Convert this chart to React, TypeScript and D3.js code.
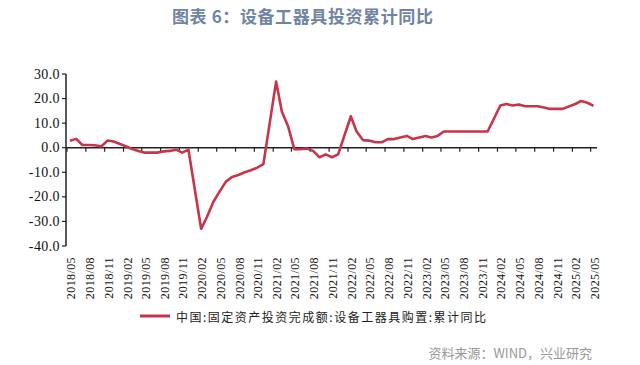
import React from "react";
import * as d3 from "d3";

// monthly cumulative yoy (%), January is merged into February
const months = [
  "2018/05", "2018/06", "2018/07", "2018/08", "2018/09", "2018/10", "2018/11", "2018/12",
  "2019/02", "2019/03", "2019/04", "2019/05", "2019/06", "2019/07", "2019/08", "2019/09", "2019/10", "2019/11", "2019/12",
  "2020/02", "2020/03", "2020/04", "2020/05", "2020/06", "2020/07", "2020/08", "2020/09", "2020/10", "2020/11", "2020/12",
  "2021/02", "2021/03", "2021/04", "2021/05", "2021/06", "2021/07", "2021/08", "2021/09", "2021/10", "2021/11", "2021/12",
  "2022/02", "2022/03", "2022/04", "2022/05", "2022/06", "2022/07", "2022/08", "2022/09", "2022/10", "2022/11", "2022/12",
  "2023/02", "2023/03", "2023/04", "2023/05", "2023/06", "2023/07", "2023/08", "2023/09", "2023/10", "2023/11", "2023/12",
  "2024/02", "2024/03", "2024/04", "2024/05", "2024/06", "2024/07", "2024/08", "2024/09", "2024/10", "2024/11", "2024/12",
  "2025/02", "2025/03", "2025/04", "2025/05",
];

const values = [
  2.8, 3.6, 1.1, 1.1, 1.0, 0.5, 2.9, 2.5,
  0.5, -0.5, -1.3, -2.0, -2.0, -2.0, -1.5, -1.3, -0.8, -2.0, -0.8,
  -33.0, -28.1, -22.0, -17.9, -13.8, -11.9, -11.1, -10.0, -9.2, -8.1, -6.7,
  26.9, 14.7, 8.6, -0.6, -0.6, -0.3, -1.3, -3.9, -2.7, -3.9, -2.7,
  12.8, 6.6, 3.1, 2.9, 2.2, 2.2, 3.5, 3.5, 4.2, 4.8, 3.5,
  4.8, 4.2, 4.8, 6.6, 6.6, 6.6, 6.6, 6.6, 6.6, 6.6, 6.6,
  17.2, 17.8, 17.2, 17.6, 16.9, 16.9, 16.9, 16.4, 15.8, 15.8, 15.8,
  17.8, 19.0, 18.3, 17.0,
];

const yTicks = [30, 20, 10, 0, -10, -20, -30, -40];

const title = "图表 6：设备工器具投资累计同比";
const legendLabel = "中国:固定资产投资完成额:设备工器具购置:累计同比";
const source = "资料来源：WIND，兴业研究";

const parse = d3.timeParse("%Y/%m");
const fmt = d3.timeFormat("%Y/%m");
const midMonth = (d: Date) => d3.timeDay.offset(d, 14);

export default function App() {
  const width = 640;
  const height = 365;
  const red = "#c8354b";

  const start = parse("2018/05")!;
  const end = parse("2025/06")!;
  const x = d3.scaleTime().domain([start, end]).range([67, 597]);
  const y = d3.scaleLinear().domain([-40, 30]).range([246, 74]);

  const points = months.map((m, i) => ({ date: midMonth(parse(m)!), v: values[i] }));
  const line = d3
    .line<{ date: Date; v: number }>()
    .x((d) => x(d.date))
    .y((d) => y(d.v));

  // a tick every 3 months, counted from 2018/05
  const xTicks = d3.timeMonth.range(start, end, 3);
  const serif = "'Liberation Serif'";
  const cjk = "'Noto Sans CJK SC', sans-serif";

  return (
    <svg
      width={width}
      height={height}
      style={{ position: "absolute", left: 0, top: 0, background: "#fff" }}
    >
      <text
        x={172}
        y={23}
        fontFamily={cjk}
        fontWeight="bold"
        fontSize={17}
        letterSpacing={0.6}
        fill="#6f84a3"
      >
        {title}
      </text>

      {/* y axis */}
      <line x1={66} x2={66} y1={y(30)} y2={y(-40)} stroke="#222" strokeWidth={1.5} />
      {yTicks.map((t) => (
        <g key={t}>
          <line x1={62} x2={66} y1={y(t)} y2={y(t)} stroke="#222" strokeWidth={1.2} />
          <text
            x={60}
            y={y(t)}
            textAnchor="end"
            dominantBaseline="central"
            style={{ fontFamily: serif, fontSize: 14, letterSpacing: 0.4 }}
            fill="#111"
          >
            {t.toFixed(1)}
          </text>
        </g>
      ))}

      {/* zero axis with ticks */}
      <line x1={66} x2={597} y1={y(0)} y2={y(0)} stroke="#222" strokeWidth={1.5} />
      {xTicks.map((d) => (
        <line
          key={"t" + fmt(d)}
          x1={x(d)}
          x2={x(d)}
          y1={y(0)}
          y2={y(0) + 4}
          stroke="#222"
          strokeWidth={1.2}
        />
      ))}
      {xTicks.map((d) => (
        <text
          key={"l" + fmt(d)}
          transform={`translate(${x(d) + 4},257) rotate(-90)`}
          textAnchor="end"
          dominantBaseline="central"
          style={{ fontFamily: serif, fontSize: 12, letterSpacing: 0.4 }}
          fill="#111"
        >
          {fmt(d)}
        </text>
      ))}

      <path
        d={line(points) ?? ""}
        fill="none"
        stroke={red}
        strokeWidth={2.6}
        strokeLinejoin="round"
      />

      {/* legend */}
      <line x1={140} x2={170} y1={316} y2={316} stroke={red} strokeWidth={3} />
      <text
        x={176}
        y={316}
        dominantBaseline="central"
        fontFamily={cjk}
        fontSize={12}
        letterSpacing={1.5}
        fill="#222"
      >
        {legendLabel}
      </text>

      <text
        x={592}
        y={352}
        textAnchor="end"
        dominantBaseline="central"
        fontFamily={cjk}
        fontSize={13}
        fill="#999"
      >
        {source}
      </text>
    </svg>
  );
}
